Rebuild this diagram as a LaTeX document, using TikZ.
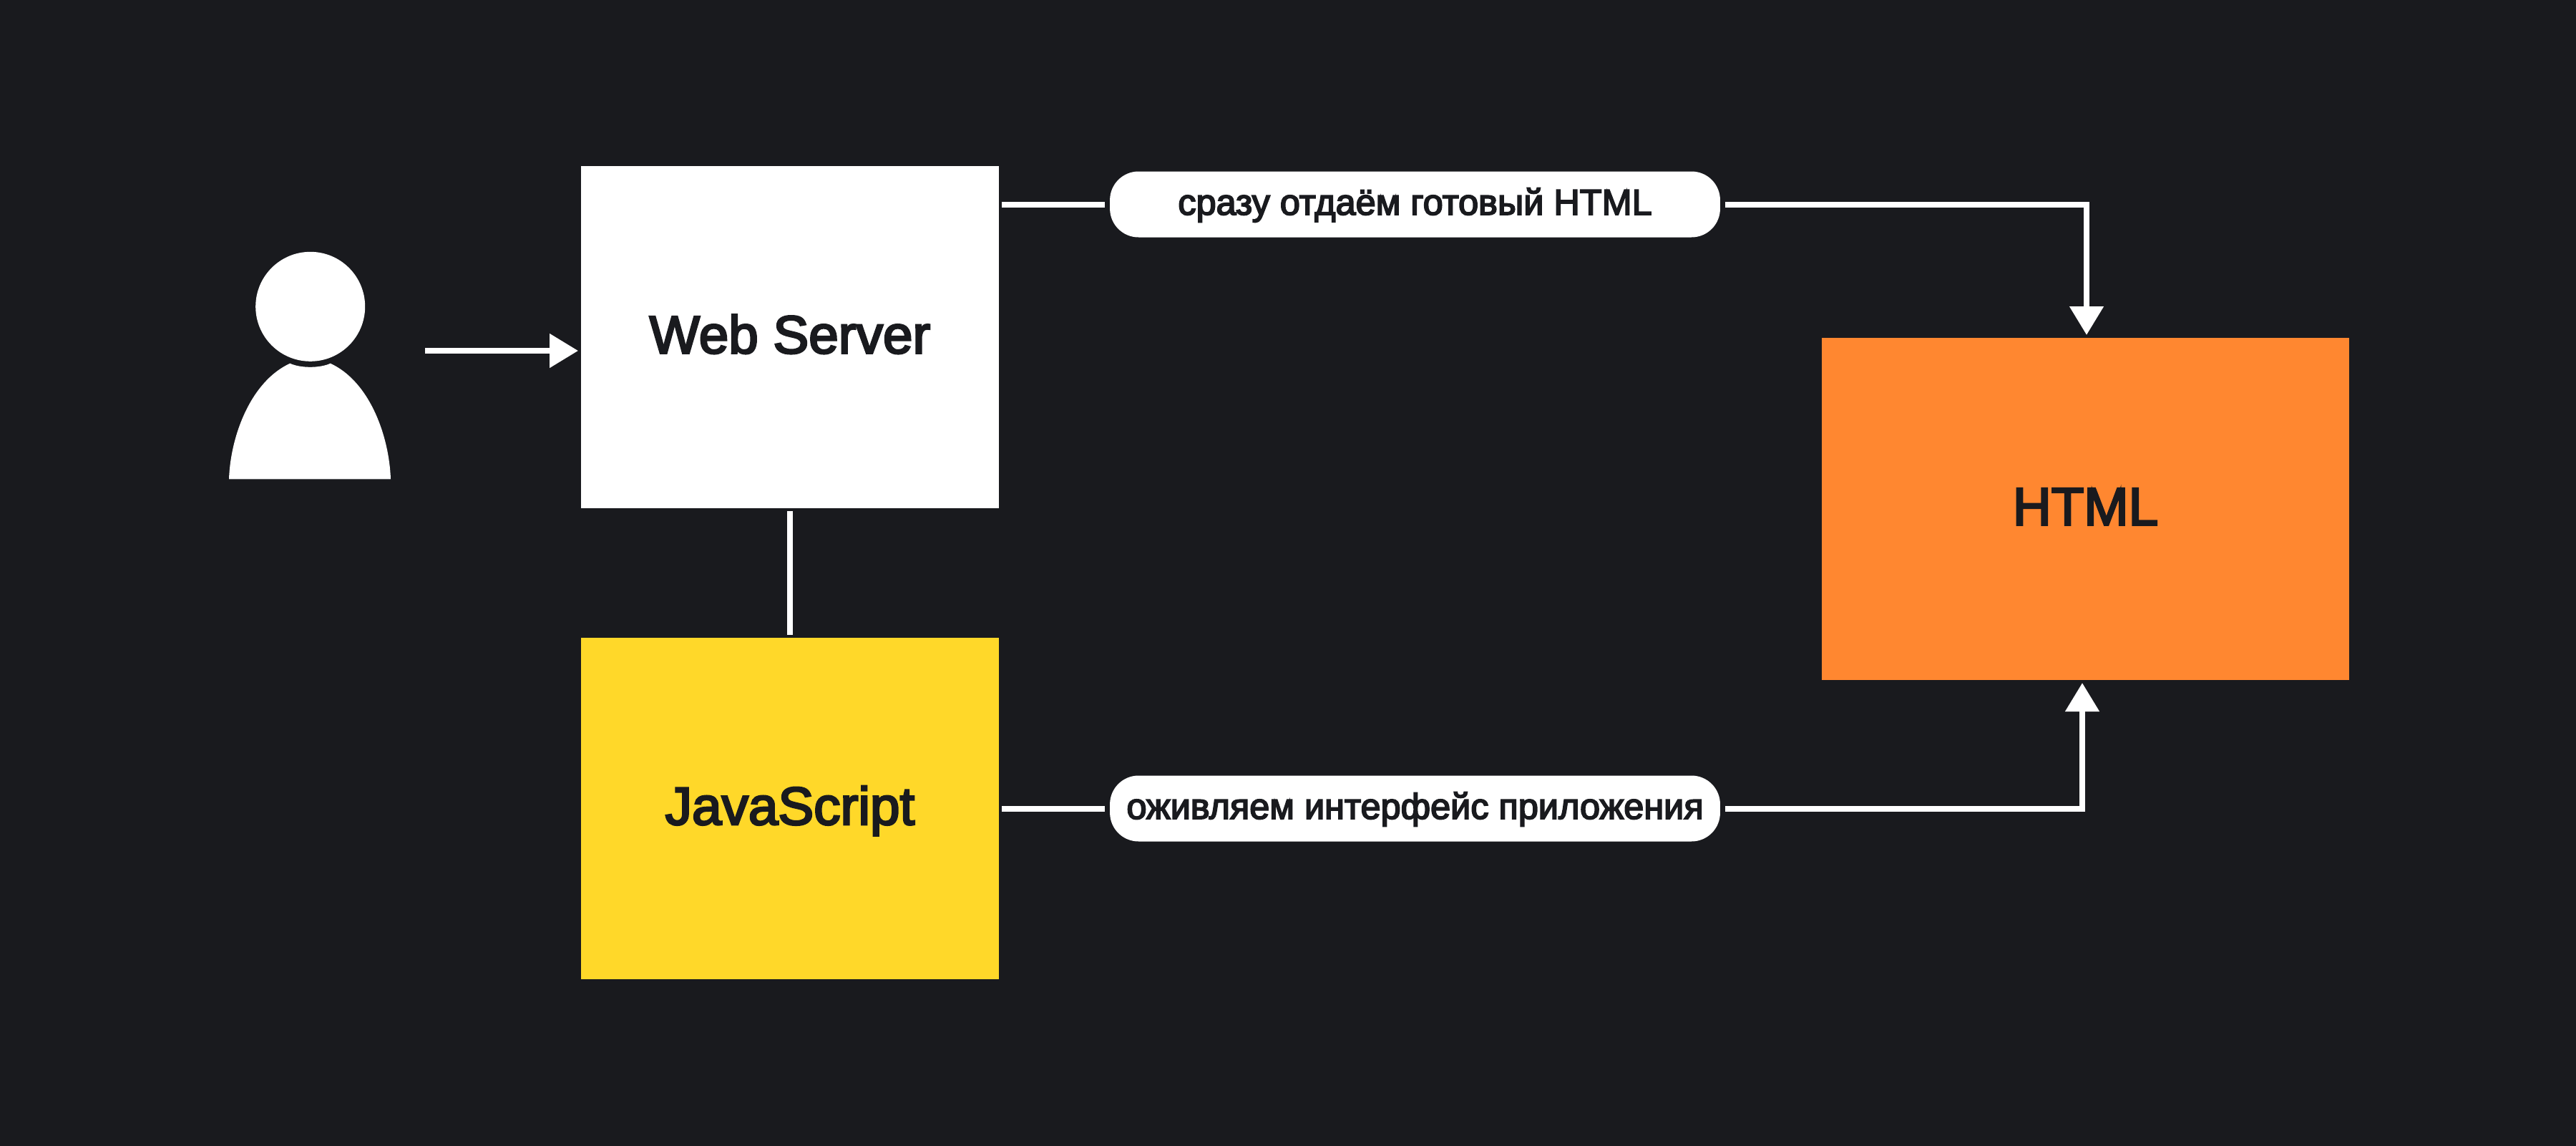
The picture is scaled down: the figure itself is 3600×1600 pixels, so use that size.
\documentclass[tikz,border=0pt]{standalone}
\usepackage{fontspec}
\setmainfont{Liberation Sans}[FakeBold=3.6]
\usetikzlibrary{arrows.meta}
\definecolor{bgdark}{HTML}{191A1E}
\definecolor{htmlorange}{HTML}{FF8730}
\definecolor{jsyellow}{HTML}{FFD829}
\tikzset{
  bigbox/.style={inner sep=0pt,outer sep=0.08cm,text=bgdark,text height=1cm,text depth=0.1cm,font=\fontsize{42.5}{50}\selectfont},
  pill/.style={fill=white,rounded corners=0.8cm,inner sep=0pt,outer sep=0.14cm,minimum width=17.06cm,minimum height=1.84cm,text=bgdark,text height=0.72cm,text depth=0.14cm,font=\fontsize{28.7}{34}\selectfont},
  wire/.style={white,line width=0.16cm,line join=miter},
  arrowwire/.style={wire,-{Triangle[length=0.8cm,width=0.92cm]}},
}
\begin{document}
\begin{tikzpicture}[x=0.02cm,y=-0.02cm]
\useasboundingbox (0,0) rectangle (3600,1600);
\fill[bgdark] (-20,-20) rectangle (3620,1620);
% user
\fill[white] (433.7,428.3) circle (76.5);
\fill[white] (320,669.3) .. controls (322,610) and (350,533) .. (405.3,507.7) .. controls (420,514.5) and (447,514.5) .. (461.7,507.7) .. controls (517,533) and (544,610) .. (546,669.3) -- cycle;
% boxes
\node[bigbox,fill=white,minimum width=11.68cm,minimum height=9.56cm] (webserver) at (1104,471) {Web Server};
\node[bigbox,fill=jsyellow,minimum width=11.68cm,minimum height=9.54cm] (javascript) at (1104,1129.5) {JavaScript};
\node[bigbox,fill=htmlorange,minimum width=14.74cm,minimum height=9.56cm] (html) at (2914.5,711) {HTML};
\node[pill] (sendpill) at (1977.5,285.5) {сразу отдаём готовый HTML};
\node[pill] (livepill) at (1977.5,1129.5) {оживляем интерфейс приложения};
% connectors
\coordinate (userout) at (594,490);
\coordinate (htmltop) at (2916,468);
\coordinate (htmlbottom) at (2910,954);
\draw[arrowwire] (userout) -- (userout -| webserver.west);
\draw[wire] (webserver.south) -- (javascript.north);
\draw[wire] (webserver.east |- sendpill.west) -- (sendpill.west);
\draw[wire] (javascript.east |- livepill.west) -- (livepill.west);
\draw[arrowwire] (sendpill.east) -| (htmltop);
\draw[arrowwire] (livepill.east) -| (htmlbottom);
\end{tikzpicture}
\end{document}
